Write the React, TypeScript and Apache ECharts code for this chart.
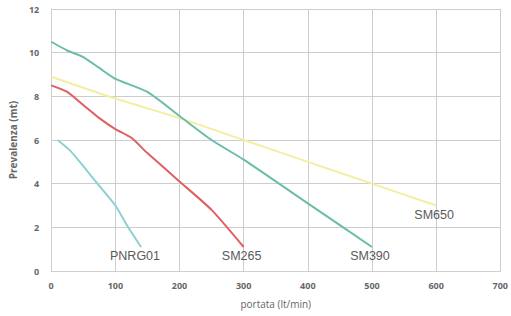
import React, { useEffect, useRef } from "react";
import * as echarts from "echarts";

const seriesNames = ["PNRG01", "SM265", "SM390", "SM650"];

const pnrg01Flow = [10, 30, 50, 75, 100, 120, 140];
const pnrg01Head = [6.0, 5.5, 4.8, 3.9, 3.0, 2.0, 1.1];

const sm265Flow = [0, 25, 50, 75, 100, 125, 150, 200, 250, 300];
const sm265Head = [8.5, 8.2, 7.6, 7.0, 6.5, 6.1, 5.4, 4.1, 2.8, 1.1];

const sm390Flow = [0, 25, 50, 75, 100, 150, 200, 250, 300, 400, 500];
const sm390Head = [10.5, 10.1, 9.8, 9.3, 8.8, 8.2, 7.1, 6.0, 5.1, 3.1, 1.1];

const sm650Flow = [0, 100, 200, 300, 400, 500, 600];
const sm650Head = [8.9, 7.9, 7.0, 6.0, 5.0, 4.0, 3.0];

const colors = ["#8fd0d0", "#df5f63", "#6bbcab", "#f3efa2"];

const xTicks = [0, 100, 200, 300, 400, 500, 600, 700];
const yTicks = [0, 2, 4, 6, 8, 10, 12];

export default function App() {
  const ref = useRef<HTMLDivElement>(null);
  useEffect(() => {
    if (!ref.current) return;
    const chart = echarts.init(ref.current, undefined, { renderer: "svg" });
    const flows = [pnrg01Flow, sm265Flow, sm390Flow, sm650Flow];
    const heads = [pnrg01Head, sm265Head, sm390Head, sm650Head];
    const labelOffsets = [[-6, 0], [-2, 0], [-2, 0], [-2, 0]];
    const tickFont = {
      color: "#666",
      fontSize: 9,
      fontWeight: "bold" as const,
      fontFamily: "Open Sans, DejaVu Sans, sans-serif",
    };
    chart.setOption({
      animation: false,
      backgroundColor: "#ffffff",
      grid: { left: 47, right: 8, top: 9, bottom: 45 },
      xAxis: {
        type: "value",
        min: xTicks[0],
        max: xTicks[xTicks.length - 1],
        interval: 100,
        name: "portata (lt/min)",
        nameLocation: "middle",
        nameGap: 28,
        nameTextStyle: {
          color: "#666",
          fontSize: 10,
          fontFamily: "Open Sans, DejaVu Sans, sans-serif",
        },
        axisLine: { show: true, lineStyle: { color: "#cfcfcf" } },
        axisTick: { show: false },
        axisLabel: { ...tickFont, margin: 10 },
        splitLine: { show: true, lineStyle: { color: "#cdcdcd", width: 1 } },
      },
      yAxis: {
        type: "value",
        min: yTicks[0],
        max: yTicks[yTicks.length - 1],
        interval: 2,
        name: "Prevalenza (mt)",
        nameLocation: "middle",
        nameGap: 30,
        nameTextStyle: {
          color: "#666",
          fontSize: 10,
          fontWeight: "bold",
          fontFamily: "Open Sans, DejaVu Sans, sans-serif",
        },
        axisLine: { show: true, lineStyle: { color: "#cfcfcf" } },
        axisTick: { show: false },
        axisLabel: { ...tickFont, margin: 12 },
        splitLine: { show: true, lineStyle: { color: "#cdcdcd", width: 1 } },
      },
      series: seriesNames.map((name, i) => {
        const f = flows[i];
        const h = heads[i];
        const last = f.length - 1;
        return {
          name,
          type: "line",
          data: f.map((x, j) => [x, h[j]]),
          smooth: 0.2,
          showSymbol: false,
          symbol: "none",
          lineStyle: { color: colors[i], width: 2 },
          itemStyle: { color: colors[i] },
          z: i === 3 ? 1 : 2,
          markPoint: {
            symbol: "circle",
            symbolSize: 0,
            silent: true,
            data: [{ coord: [f[last], h[last]] }],
            label: {
              show: true,
              position: "bottom",
              distance: 3,
              offset: labelOffsets[i],
              formatter: name,
              color: "#5a5a5a",
              fontSize: 12.5,
              fontFamily: "Liberation Sans, Arial, sans-serif",
            },
          },
        };
      }),
    });
    return () => chart.dispose();
  }, []);
  return <div ref={ref} style={{ width: 511, height: 316, position: "absolute", left: 0, top: 0 }} />;
}
